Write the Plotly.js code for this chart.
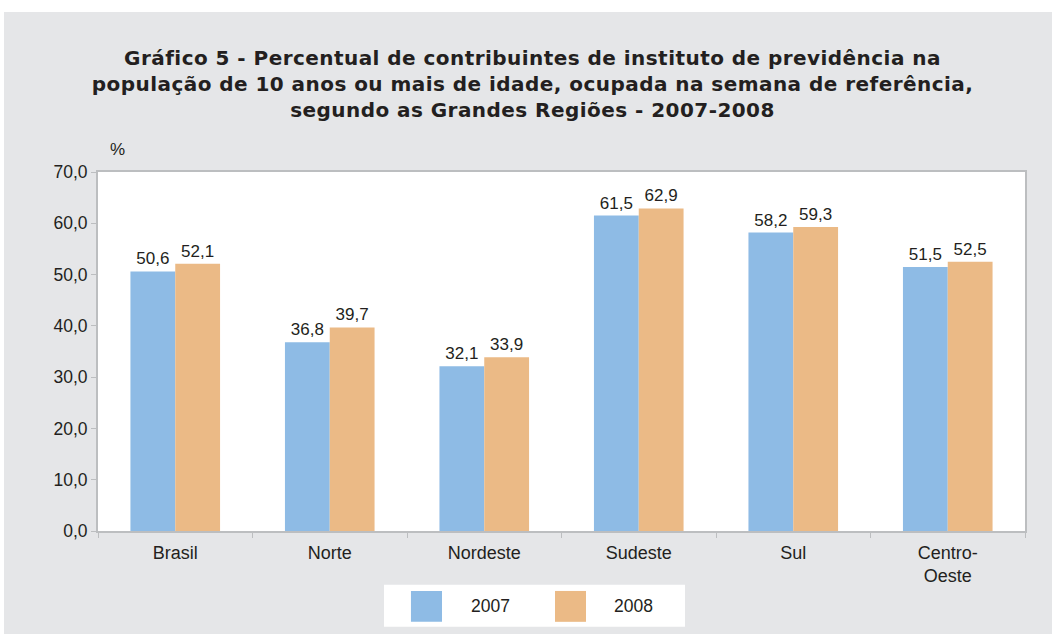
<!DOCTYPE html>
<html>
<head>
<meta charset="utf-8">
<script src="https://cdn.plot.ly/plotly-3.0.1.min.js"></script>
<style>
html,body{margin:0;padding:0;background:#ffffff;width:1052px;height:634px;overflow:hidden;}
#chart{position:absolute;left:4px;top:12px;width:1048px;height:622px;}
.gtitle{letter-spacing:0.45px;}
</style>
</head>
<body>
<div id="chart"></div>
<script>
const categories = ["Brasil", "Norte", "Nordeste", "Sudeste", "Sul", "Centro-<br>Oeste"];
const seriesNames = ["2007", "2008"];
const values2007 = [50.6, 36.8, 32.1, 61.5, 58.2, 51.5];
const values2008 = [52.1, 39.7, 33.9, 62.9, 59.3, 52.5];
const yTicks = [0, 10, 20, 30, 40, 50, 60, 70];
const colors = ["#8ebbe5", "#ebba86"];

const font = "Liberation Sans, Arial, sans-serif";
const titleFont = "DejaVu Sans, Liberation Sans, sans-serif";
const textColor = "#231f20";

function bar(name, vals, color) {
  return {
    type: "bar", name: name, x: categories, y: vals,
    marker: {color: color, line: {width: 0}},
    texttemplate: "%{y:.1f}", textposition: "outside", cliponaxis: false,
    textfont: {family: font, size: 17, color: textColor},
    hoverinfo: "x+y"
  };
}

const data = [bar(seriesNames[0], values2007, colors[0]), bar(seriesNames[1], values2008, colors[1])];

// manual legend (large swatches as in reference)
const shapes = [
  {type: "rect", xref: "paper", yref: "paper", x0: 0.3085, x1: 0.6332, y0: -0.267, y1: -0.150, fillcolor: "#ffffff", line: {width: 0}, layer: "below"},
  {type: "rect", xref: "paper", yref: "paper", x0: 0.3376, x1: 0.3711, y0: -0.253, y1: -0.167, fillcolor: colors[0], line: {width: 0}},
  {type: "rect", xref: "paper", yref: "paper", x0: 0.4930, x1: 0.5264, y0: -0.253, y1: -0.167, fillcolor: colors[1], line: {width: 0}}
];

const annotations = [
  {xref: "paper", yref: "paper", x: 0.011, y: 1.031, text: "%", showarrow: false, xanchor: "left", yanchor: "bottom", font: {family: font, size: 17, color: textColor}},
  {xref: "paper", yref: "paper", x: 0.4229, y: -0.209, text: seriesNames[0], showarrow: false, xanchor: "center", yanchor: "middle", font: {family: font, size: 17.5, color: textColor}},
  {xref: "paper", yref: "paper", x: 0.5782, y: -0.209, text: seriesNames[1], showarrow: false, xanchor: "center", yanchor: "middle", font: {family: font, size: 17.5, color: textColor}}
];

const layout = {
  width: 1048, height: 622,
  paper_bgcolor: "#e5e6e8",
  plot_bgcolor: "#ffffff",
  separators: ",.",
  showlegend: false,
  barmode: "group",
  bargap: 0.42,
  bargroupgap: 0,
  margin: {l: 94, r: 27, t: 160, b: 103},
  title: {
    text: "<b>Gráfico 5 - Percentual de contribuintes de instituto de previdência na<br>população de 10 anos ou mais de idade, ocupada na semana de referência,<br>segundo as Grandes Regiões - 2007-2008</b>",
    font: {family: titleFont, size: 20, color: textColor},
    x: 0.5043, xanchor: "center", xref: "container",
    y: 0.915, yanchor: "top", yref: "container"
  },
  xaxis: {
    type: "category",
    showline: true, mirror: true, linecolor: "#bcbec0", linewidth: 2,
    ticks: "outside", tickson: "boundaries", ticklen: 5, tickcolor: "#bcbec0", tickwidth: 1,
    ticklabelstandoff: 4,
    tickfont: {family: font, size: 18, color: textColor},
    showgrid: false, zeroline: false
  },
  yaxis: {
    range: [0, 70], tickvals: yTicks, tickformat: ".1f",
    showline: true, mirror: true, linecolor: "#bcbec0", linewidth: 2,
    ticks: "outside", ticklen: 5, tickcolor: "#bcbec0", tickwidth: 1,
    tickfont: {family: font, size: 17.5, color: textColor},
    showgrid: false, zeroline: false
  },
  shapes: shapes,
  annotations: annotations
};

Plotly.newPlot("chart", data, layout, {displayModeBar: false, staticPlot: true});
</script>
</body>
</html>
